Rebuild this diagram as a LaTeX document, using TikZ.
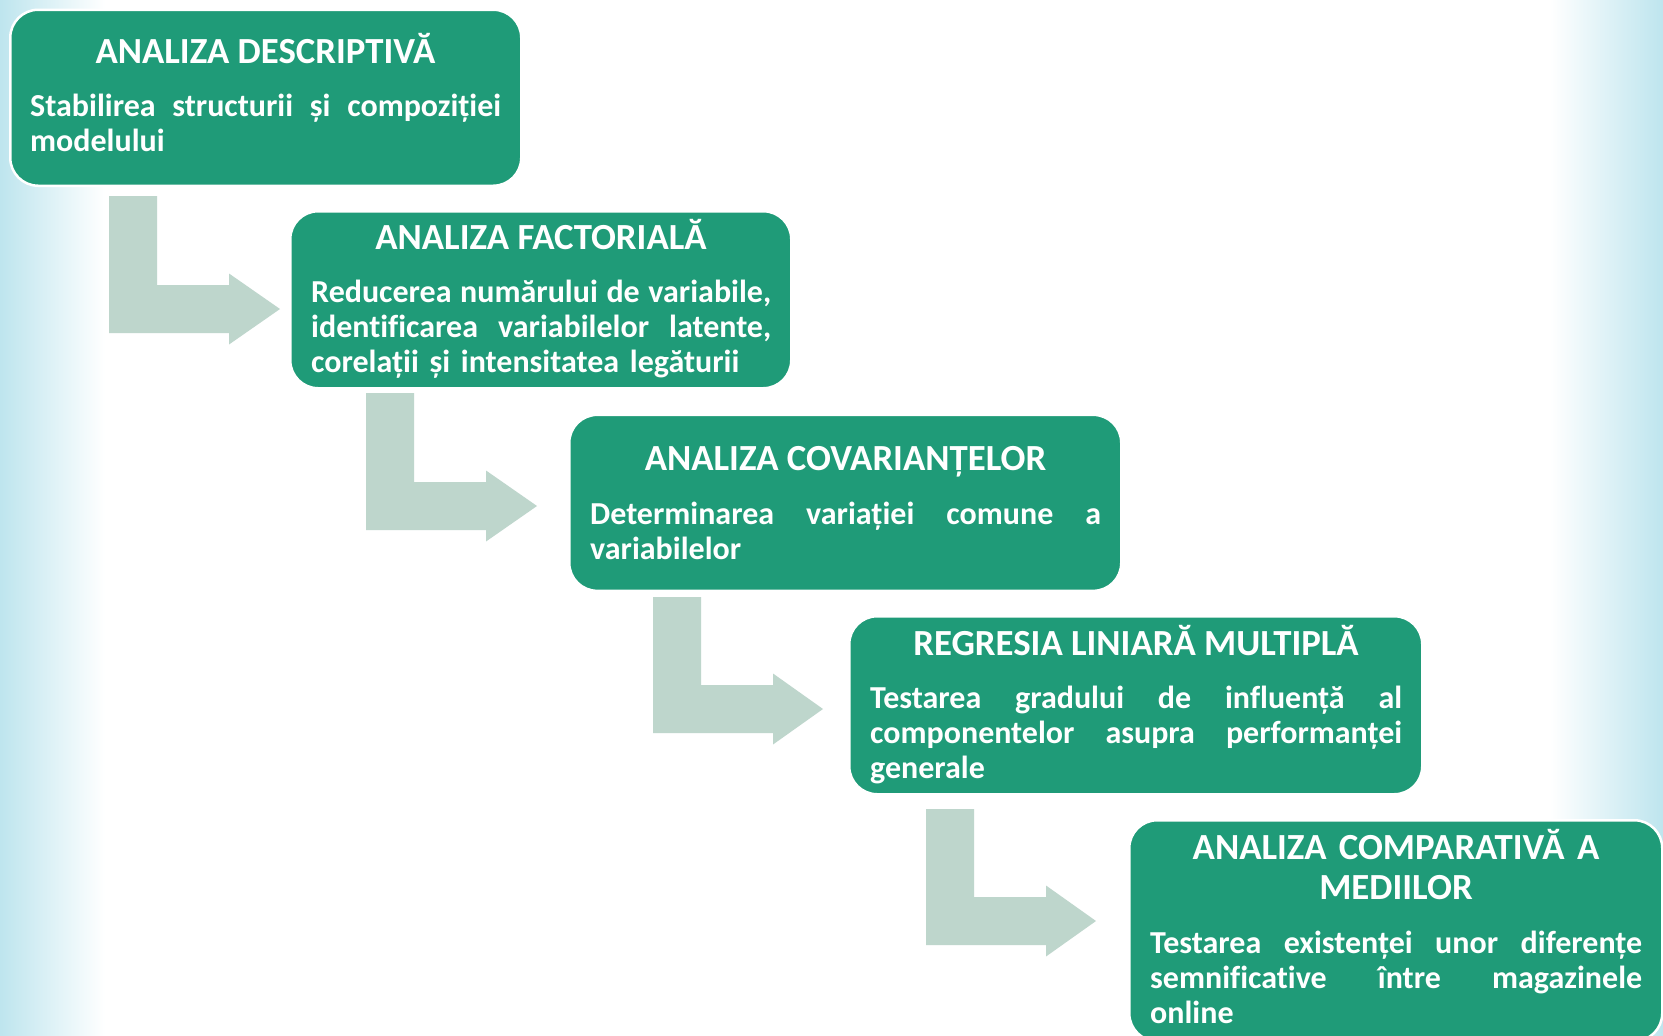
\documentclass[tikz,border=0pt]{standalone}
\usepackage{fontspec}
\setmainfont{Carlito}[Ligatures=CommonOff]
\definecolor{boxgreen}{RGB}{31,155,120}
\definecolor{arrowgray}{RGB}{190,214,204}
\definecolor{edgeblue}{RGB}{190,229,238}

% one justified line, spaces stretched to the full width
\newcommand\jl[1]{\makebox[\linewidth][s]{\spaceskip=0pt\xspaceskip=0pt\relax#1}}
% bent block arrow: bar x, top, bottom, head base x, tip x
\newcommand\bentarrow[5]{%
  \fill[arrowgray] (#1,#2) -- ({#1+48},#2) -- ({#1+48},{#3-48}) -- (#4,{#3-48})
    -- (#4,{#3-59.5}) -- (#5,{#3-24}) -- (#4,{#3+11.5}) -- (#4,#3) -- (#1,#3) -- cycle;}

\begin{document}
\begin{tikzpicture}[x=1pt,y=-1pt,
  stepbox/.style={draw=white, line width=2.5pt, fill=boxgreen, rounded corners=28pt,
    rectangle, anchor=north west, inner sep=0pt},
  titletext/.style={anchor=base, inner sep=0pt, text=white,
    font=\bfseries\fontsize{36.8}{40}\selectfont},
  bodytext/.style={anchor=base west, inner sep=0pt, text=white,
    font=\bfseries\fontsize{32}{35}\selectfont}]

\useasboundingbox (0,0) rectangle (1663,1036);
\clip (0,0) rectangle (1663,1036);

% background with soft blue edges
\fill[white] (0,0) rectangle (1663,1036);
\shade[left color=edgeblue, right color=white] (0,0) rectangle (105,1036);
\shade[left color=white, right color=edgeblue] (1550,0) rectangle (1663,1036);

% bent arrows between the steps
\bentarrow{109}{196}{333}{229}{280}
\bentarrow{366}{393}{530}{486}{537}
\bentarrow{653}{597}{733}{773}{823}
\bentarrow{926}{809}{945}{1046}{1096}

% step boxes
\node[stepbox, minimum width=511pt, minimum height=176pt] (b1) at (9,8.5) {};
\node[stepbox, minimum width=501pt, minimum height=177pt] (b2) at (289,210) {};
\node[stepbox, minimum width=552pt, minimum height=176pt] (b3) at (568,413.6) {};
\node[stepbox, minimum width=573pt, minimum height=178pt] (b4) at (848,615) {};
\node[stepbox, minimum width=533pt, minimum height=221pt] (b5) at (1128,819) {};

% step 1
\node[titletext] (t1) at (265.5,63.6) {ANALIZA DESCRIPTIVĂ};
\node[bodytext, text width=471pt] (d1) at (30,116.7)
  {\jl{Stabilirea structurii și compoziției}\\modelului};

% step 2
\node[titletext] (t2) at (541,249) {ANALIZA FACTORIALĂ};
\node[bodytext, text width=460pt] (d2) at (311,302.5)
  {\jl{Reducerea numărului de variabile,}\\\jl{identificarea variabilelor latente,}\\corelații și intensitatea legăturii};

% step 3
\node[titletext] (t3) at (845.5,470) {ANALIZA COVARIANȚELOR};
\node[bodytext, text width=511pt] (d3) at (590,524)
  {\jl{Determinarea variației comune a}\\variabilelor};

% step 4
\node[titletext] (t4) at (1136,655.5) {REGRESIA LINIARĂ MULTIPLĂ};
\node[bodytext, text width=532pt] (d4) at (870,708.5)
  {\jl{Testarea gradului de influență al}\\\jl{componentelor asupra performanței}\\generale};

% step 5
\node[titletext, text width=492pt, align=center] (t5) at (1396,859)
  {ANALIZA COMPARATIVĂ A\\MEDIILOR};
\node[bodytext, text width=492pt] (d5) at (1150,953.5)
  {\jl{Testarea existenței unor diferențe}\\\jl{semnificative între magazinele}\\online};

\end{tikzpicture}
\end{document}
